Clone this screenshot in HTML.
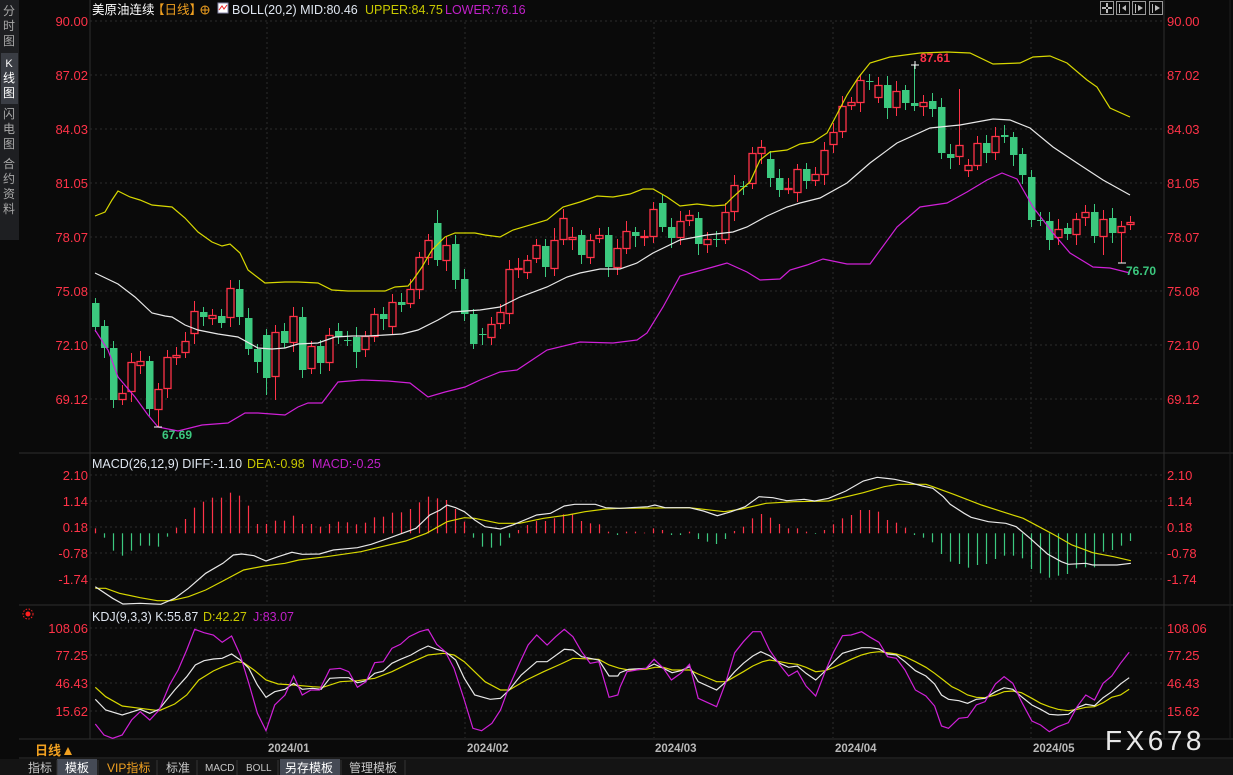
<!DOCTYPE html>
<html><head><meta charset="utf-8">
<style>
html,body{margin:0;padding:0;background:#0a0a0a;width:1233px;height:775px;overflow:hidden}
svg{display:block}
text{font-family:"Liberation Sans","Noto Sans CJK SC",sans-serif}
</style></head>
<body>
<svg id="s" width="1233" height="775" viewBox="0 0 1233 775" xmlns="http://www.w3.org/2000/svg">
<rect width="1233" height="775" fill="#0a0a0a"/>
<rect x="0" y="0" width="19" height="240" fill="#1e1f22"/>
<rect x="1" y="53" width="17" height="51" fill="#3a3d44"/>
<g font-size="12" fill="#a8a8a8" text-anchor="middle">
<text x="9" y="15">分</text><text x="9" y="30">时</text><text x="9" y="45">图</text>
<text x="9" y="67" fill="#fff" font-size="11">K</text><text x="9" y="82" fill="#fff">线</text><text x="9" y="97" fill="#fff">图</text>
<text x="9" y="118">闪</text><text x="9" y="133">电</text><text x="9" y="148">图</text>
<text x="9" y="168">合</text><text x="9" y="183">约</text><text x="9" y="198">资</text><text x="9" y="213">料</text>
</g>
<g id="grid"></g>
<g id="plot"></g>
<text x="92" y="14" font-size="12.5" fill="#ffffff">美原油连续</text>
<text x="152" y="14" font-size="12.5" fill="#f0a020">【日线】</text>
<circle cx="205" cy="10" r="4" fill="none" stroke="#f0a020" stroke-width="1"/><line x1="201" y1="10" x2="209" y2="10" stroke="#f0a020"/><line x1="205" y1="6" x2="205" y2="14" stroke="#f0a020"/>
<rect x="218" y="3" width="10" height="10" fill="#fff" stroke="#88a" stroke-width="1"/><polyline points="219,10 222,6 224,9 227,5" fill="none" stroke="#e22" stroke-width="1"/>
<text x="232" y="14" font-size="12.5" fill="#dfe6f0">BOLL(20,2) MID:80.46</text>
<text x="365" y="14" font-size="12.5" fill="#c8c800">UPPER:84.75</text>
<text x="445" y="14" font-size="12.5" fill="#c020c8">LOWER:76.16</text>
<g fill="none" stroke="#9a9a9a" stroke-width="1">
<rect x="1100.5" y="1.5" width="13" height="13"/><rect x="1116.5" y="1.5" width="13" height="13"/><rect x="1132.5" y="1.5" width="13" height="13"/><rect x="1149.5" y="1.5" width="13" height="13"/>
</g>
<g fill="#bbb"><rect x="1106" y="3" width="2" height="4"/><rect x="1106" y="9" width="2" height="4"/><rect x="1102" y="7" width="4" height="2"/><rect x="1108" y="7" width="4" height="2"/>
<rect x="1119" y="4" width="1" height="9"/><polygon points="1122,8 1126,5 1126,11"/><rect x="1135" y="4" width="1" height="9"/><polygon points="1143,8 1138,5 1138,11"/><rect x="1152" y="4" width="1" height="9"/><polygon points="1160,8 1155,5 1155,11"/></g>
<text x="92" y="468" font-size="12.5" fill="#dfe6f0">MACD(26,12,9) DIFF:-1.10</text>
<text x="247" y="468" font-size="12.5" fill="#c8c800">DEA:-0.98</text>
<text x="312" y="468" font-size="12.5" fill="#c020c8">MACD:-0.25</text>
<text x="92" y="621" font-size="12.5" fill="#dfe6f0">KDJ(9,3,3) K:55.87</text>
<text x="203" y="621" font-size="12.5" fill="#c8c800">D:42.27</text>
<text x="253" y="621" font-size="12.5" fill="#c020c8">J:83.07</text>
<circle cx="28" cy="614" r="2.5" fill="#ff2020"/><circle cx="28" cy="614" r="5" fill="none" stroke="#ff2020" stroke-dasharray="1.5 1.5"/>
<text x="920" y="62" font-size="12" font-weight="bold" fill="#ff3348">87.61</text>
<text x="162" y="439" font-size="12" font-weight="bold" fill="#3cc97f">67.69</text>
<text x="1126" y="275" font-size="12" font-weight="bold" fill="#3cc97f">76.70</text>
<g stroke="#fff" stroke-width="1"><line x1="911" y1="65" x2="919" y2="65"/><line x1="915" y1="61" x2="915" y2="69"/>
<line x1="154" y1="427" x2="162" y2="427"/><line x1="1118" y1="263" x2="1126" y2="263"/></g>
<text x="35" y="755" font-size="13" font-weight="bold" fill="#f0a020">日线</text>
<polygon points="64,755 68,747 72,755" fill="#f0a020"/>
<g font-size="11.5" font-weight="bold" fill="#b8b8b8">
<text x="268" y="752">2024/01</text><text x="467" y="752">2024/02</text><text x="655" y="752">2024/03</text><text x="835" y="752">2024/04</text><text x="1033" y="752">2024/05</text>
</g>
<text x="1105" y="750" font-size="28" fill="#e8e8e8" letter-spacing="3.5">FX678</text>
<rect x="0" y="759" width="1233" height="16" fill="#141414"/>
<rect x="57" y="759" width="40" height="16" fill="#454a55"/>
<rect x="280" y="759" width="60" height="16" fill="#454a55"/>
<g font-size="12" fill="#c8c8c8">
<text x="28" y="772">指标</text><text x="65" y="772" fill="#fff">模板</text><text x="107" y="772" fill="#f0a020" font-family="Liberation Serif,Noto Serif CJK SC,serif">VIP指标</text>
<text x="166" y="772">标准</text><text x="205" y="771" font-size="10" font-family="Liberation Mono,monospace">MACD</text><text x="246" y="771" font-size="10" font-family="Liberation Mono,monospace">BOLL</text>
<text x="285" y="772" fill="#fff">另存模板</text><text x="349" y="772">管理模板</text>
</g>
<g stroke="#333"><line x1="57" y1="760" x2="57" y2="775"/><line x1="98" y1="760" x2="98" y2="775"/><line x1="157" y1="760" x2="157" y2="775"/><line x1="197" y1="760" x2="197" y2="775"/><line x1="237" y1="760" x2="237" y2="775"/><line x1="278" y1="760" x2="278" y2="775"/><line x1="341" y1="760" x2="341" y2="775"/><line x1="405" y1="760" x2="405" y2="775"/></g>
</svg>
<script>
var NS="http://www.w3.org/2000/svg";
function el(p,t,a){var e=document.createElementNS(NS,t);for(var k in a)e.setAttribute(k,a[k]);p.appendChild(e);return e;}
var G=document.getElementById('grid'),P=document.getElementById('plot');
[[90,0,90,739],[1164,0,1164,739],[19,453,1233,453],[19,605,1233,605],[19,739,1233,739],[19,758,1233,758]].forEach(function(l){el(G,'line',{x1:l[0],y1:l[1],x2:l[2],y2:l[3],stroke:'#2e2e2e'});});
el(G,'line',{x1:1230,y1:0,x2:1230,y2:739,stroke:'#1e1e1e'});
function hlab(y,t){el(G,'line',{x1:90,y1:y,x2:1164,y2:y,stroke:'#2c2c2c','stroke-dasharray':'2 3'});
 var a=el(G,'text',{x:88,y:y+5,'font-size':13,fill:'#ff3348','text-anchor':'end'});a.textContent=t;
 var b=el(G,'text',{x:1167,y:y+5,'font-size':13,fill:'#ff3348'});b.textContent=t;}
[[21,'90.00'],[75,'87.02'],[129,'84.03'],[183,'81.05'],[237,'78.07'],[291,'75.08'],[345,'72.10'],[399,'69.12'],
[475,'2.10'],[501,'1.14'],[527,'0.18'],[553,'-0.78'],[579,'-1.74'],
[628,'108.06'],[655,'77.25'],[683,'46.43'],[711,'15.62']].forEach(function(v){hlab(v[0],v[1]);});
[267,465,654,833,1031].forEach(function(x){[[22,452],[470,604],[622,738]].forEach(function(r){el(G,'line',{x1:x,y1:r[0],x2:x,y2:r[1],stroke:'#2c2c2c','stroke-dasharray':'2 3'});});});
var RED='#ff3348',GRN='#3cc97f';
var C=[[303,327,0],[326,348,0],[348,400,0],[393,399,1],[362,391,1],[361,365,1],[361,409,0],[389,409,1],[357,388,1],[355,357,1],
[341,352,1],[311,333,1],[312,317,0],[315,318,1],[316,323,0],[288,317,1],[289,317,0],[318,349,0],[349,362,0],[335,378,0],
[332,376,1],[331,343,0],[316,342,1],[317,370,0],[346,368,1],[346,363,0],[335,362,1],[331,337,0],[340,341,0],[337,352,0],
[336,349,1],[314,336,1],[314,319,0],[302,326,1],[302,305,0],[289,303,1],[257,289,1],[240,257,1],[223,260,0],[245,260,1],
[244,280,0],[279,314,0],[314,344,0],[334,335,0],[324,337,1],[312,323,1],[269,313,1],[268,269,1],[260,272,1],[245,258,1],
[246,267,0],[240,268,1],[218,239,1],[237,239,1],[235,255,0],[240,257,1],[235,238,1],[235,267,0],[248,267,1],[231,248,1],
[232,236,0],[236,237,1],[209,236,1],[203,227,0],[227,238,0],[221,237,1],[215,220,1],[218,244,0],[239,244,1],[239,240,0],
[212,239,1],[185,211,1],[186,187,0],[153,183,1],[147,153,1],[159,178,0],[178,190,0],[188,189,1],[169,192,1],[169,181,0],
[174,180,1],[150,174,1],[132,144,1],[106,131,1],[102,105,1],[80,102,1],[81,82,0],[85,97,1],[85,108,0],[91,107,1],
[90,103,0],[103,106,0],[102,106,1],[101,109,0],[107,153,0],[154,158,0],[145,156,1],[165,170,1],[143,165,1],[143,153,0],
[136,152,1],[135,137,0],[137,155,0],[154,175,0],[177,220,0],[220,221,0],[221,240,0],[229,237,1],[228,234,0],[219,234,1],
[212,217,1],[212,236,0],[219,236,1],[218,233,0],[226,232,1],[222,224,1]];
var HI={92:65,97:89,39:210,52:228},LO={8:427,115:263,20:395,21:400,30:368,113:255};
function X(i){return 95+9*i;}
C.forEach(function(c,i){var x=X(i),col=c[2]?RED:GRN,n=i+1;
 var hi=HI[n]!==undefined?HI[n]:c[0]-5-(i*7%6),lo=LO[n]!==undefined?LO[n]:c[1]+5+(i*5%7);
 el(P,'line',{x1:x+.5,y1:hi,x2:x+.5,y2:lo,stroke:col});
 var h=Math.max(1,c[1]-c[0]);
 if(c[2]) el(P,'rect',{x:x-3,y:c[0]+.5,width:7,height:h,fill:'#0a0a0a',stroke:col,'stroke-width':1.3});
 else el(P,'rect',{x:x-3,y:c[0],width:7.5,height:h,fill:col});
});
function pl(pts,col,tx){var s=pts.map(function(p){return tx?tx(p):p;}).map(function(p){return p[0].toFixed(1)+','+p[1].toFixed(1);}).join(' ');
 el(P,'polyline',{points:s,fill:'none',stroke:col,'stroke-width':1.2});}
pl([[95,216],[105,212],[112,200],[118,191],[130,197],[140,200],[152,205],[172,207],[185,218],[198,232],[212,242],[222,246],[230,244],[240,253],[248,270],[265,283],[285,282],[298,282],[318,283],[332,290],[348,291],[385,291],[395,287],[408,286],[413,280],[422,267],[432,250],[445,237],[455,233],[475,233],[485,235],[500,237],[513,230],[547,220],[563,207],[580,202],[597,196],[613,197],[630,194],[643,189],[653,189],[667,197],[680,206],[697,204],[713,206],[725,205],[733,197],[743,188],[750,182],[760,160],[770,152],[787,150],[800,144],[813,142],[827,133],[835,118],[847,95],[858,78],[870,63],[890,57],[920,53],[947,52],[970,53],[993,64],[1020,63],[1033,57],[1050,56],[1067,63],[1087,80],[1097,87],[1110,108],[1130,117]],'#d8d800');
pl([[95,273],[118,284],[135,297],[152,313],[165,316],[172,317],[185,325],[198,330],[218,334],[238,337],[258,348],[272,349],[285,348],[298,344],[318,343],[335,337],[352,336],[368,336],[402,334],[418,330],[438,320],[452,312],[480,310],[500,307],[520,297],[547,287],[567,277],[580,273],[600,269],[620,269],[637,263],[653,253],[680,240],[707,235],[733,232],[747,227],[767,216],[787,207],[800,203],[820,198],[847,183],[870,163],[897,143],[930,128],[960,125],[993,119],[1010,120],[1030,128],[1053,147],[1077,163],[1103,180],[1130,195]],'#e8e8e8');
pl([[95,330],[108,350],[118,377],[135,397],[148,415],[158,427],[178,431],[202,425],[228,423],[245,413],[258,413],[285,415],[298,407],[308,403],[322,403],[338,382],[362,380],[388,381],[410,383],[428,397],[445,392],[465,387],[480,380],[500,372],[517,370],[547,350],[580,342],[613,343],[637,340],[647,333],[663,307],[680,276],[713,267],[727,263],[747,272],[760,280],[780,279],[790,270],[807,265],[823,259],[847,264],[870,264],[897,227],[920,207],[947,203],[967,192],[987,180],[1002,173],[1017,179],[1033,207],[1053,233],[1070,253],[1093,267],[1110,268],[1130,273]],'#d020d8');
var ML=[220,248,287,302,287,272,272,275,245,218,192,158,140,128,128,113,122,152,207,207,197,197,182,207,207,215,207,200,202,208,203,187,185,173,172,162,142,125,130,135,162,200,248,275,278,272,248,225,210,198,198,190,178,178,198,205,208,230,240];
var MR=[230,230,233,220,225,240,240,230,252,260,267,252,228,215,190,177,188,207,220,220,230,237,225,208,190,180,165,165,170,195,203,218,240,248,262,297,320,327,338,330,327,312,302,302,310,342,355,368,362,357,340,337,337,290,285,272,258];
ML.concat(MR).forEach(function(z,i){var y=455+z/3,zero=533.3,x=X(i)+.5;el(P,'line',{x1:x,y1:zero,x2:x,y2:y,stroke:y<zero?RED:GRN,'stroke-width':1.2});});
function t7(p){return [85+p[0]/2.9,455+p[1]/3];}function t8(p){return [620+p[0]/2.877,455+p[1]/3];}
function t9(p){return [85+p[0]/2.9,610+p[1]/3];}function t10(p){return [620+p[0]/2.877,610+p[1]/3];}
function both(a,fa,b,fb){return a.map(fa).concat(b.map(fb));}
pl(both([[30,400],[60,400],[100,415],[160,428],[210,437],[250,437],[300,425],[350,405],[400,378],[460,345],[520,333],[580,325],[620,315],[700,305],[800,290],[860,275],[930,258],[990,235],[1050,200],[1100,188],[1130,190],[1200,205],[1260,205],[1330,190],[1400,180],[1450,170],[1510,162],[1550,160]],t7,
[[0,160],[200,158],[300,170],[350,162],[420,145],[500,140],[600,138],[700,113],[760,95],[800,88],[880,88],[900,95],[960,118],[1040,150],[1100,170],[1160,190],[1200,212],[1250,240],[1300,270],[1360,293],[1420,305],[1470,317]],t8),'#d8d800');
pl(both([[30,395],[80,430],[110,447],[160,445],[220,448],[260,430],[300,400],[350,355],[400,325],[430,300],[455,297],[490,302],[525,318],[560,305],[600,292],[630,298],[680,297],[720,285],[790,278],[830,268],[880,250],[920,235],[960,220],[1000,180],[1030,165],[1050,150],[1075,158],[1100,170],[1130,195],[1160,215],[1205,222],[1240,210],[1310,180],[1350,175],[1390,153],[1420,148],[1480,148],[1510,158],[1550,160]],t7,
[[0,160],[80,155],[100,150],[130,158],[200,158],[240,168],[280,182],[320,170],[360,155],[400,125],[440,128],[480,137],[530,133],[560,138],[600,130],[650,108],[700,78],[740,67],[790,73],[830,82],[870,93],[900,100],[930,125],[950,148],[990,175],[1010,187],[1060,200],[1110,205],[1140,215],[1180,250],[1230,297],[1270,320],[1290,328],[1340,325],[1360,330],[1430,330],[1470,325]],t8),'#e8e8e8');
pl(both([[30,232],[60,260],[108,288],[160,295],[215,302],[260,282],[295,255],[330,210],[372,183],[400,170],[440,155],[460,158],[490,180],[525,210],[560,222],[605,225],[660,230],[690,232],[740,215],[790,212],[840,205],[890,185],[940,160],[995,135],[1040,130],[1070,135],[1100,155],[1160,215],[1205,240],[1230,240],[1280,210],[1330,185],[1380,162],[1415,145],[1490,148],[1520,165],[1550,175]],t9,
[[0,175],[25,180],[75,178],[100,172],[125,172],[150,180],[200,180],[225,192],[278,215],[305,215],[330,200],[355,185],[382,168],[410,155],[430,150],[460,155],[485,160],[510,163],[535,172],[563,185],[590,182],[615,172],[640,160],[665,148],[695,135],[720,128],[745,125],[770,128],[795,132],[820,140],[850,155],[880,172],[905,190],[930,210],[955,230],[975,240],[1000,255],[1025,262],[1050,263],[1080,255],[1105,245],[1130,243],[1155,248],[1185,265],[1210,280],[1235,290],[1260,298],[1290,302],[1315,298],[1340,292],[1365,290],[1390,278],[1415,262],[1440,255],[1465,238]],t10),'#d8d800');
pl(both([[30,268],[60,300],[108,315],[160,298],[188,310],[215,298],[260,240],[295,200],[320,165],[345,152],[372,147],[398,145],[425,132],[450,150],[475,175],[500,225],[525,262],[550,245],[580,238],[605,220],[630,238],[660,235],[685,238],[710,205],[740,203],[765,203],[790,218],[815,212],[840,190],[865,183],[890,160],[915,148],[945,135],[970,120],[995,108],[1020,118],[1045,125],[1075,150],[1100,205],[1130,255],[1175,268],[1205,265],[1230,240],[1265,195],[1310,155],[1340,155],[1390,118],[1415,120],[1440,140],[1490,150],[1520,198],[1545,198]],t9,
[[0,188],[25,178],[75,175],[98,162],[125,175],[150,188],[175,182],[200,170],[225,215],[278,240],[305,215],[330,185],[355,160],[382,138],[405,125],[430,137],[460,160],[485,172],[510,168],[535,190],[563,210],[590,183],[615,155],[640,130],[665,122],[695,113],[720,113],[745,117],[770,132],[795,135],[820,155],[850,182],[880,198],[905,222],[925,255],[945,268],[975,272],[1000,280],[1025,268],[1050,265],[1080,245],[1105,233],[1130,238],[1155,260],[1185,285],[1210,298],[1235,313],[1260,315],[1290,313],[1315,293],[1340,283],[1365,287],[1390,263],[1415,245],[1440,222],[1465,203]],t10),'#e8e8e8');
pl(both([[30,342],[55,375],[80,385],[108,375],[135,330],[160,305],[188,330],[215,300],[245,225],[270,180],[295,120],[318,58],[345,68],[372,75],[398,97],[425,78],[450,135],[475,220],[500,310],[525,362],[550,285],[580,255],[605,198],[630,255],[655,240],[680,240],[710,178],[740,175],[765,185],[790,232],[815,215],[840,158],[865,155],[890,115],[915,103],[940,80],[970,65],[995,58],[1020,103],[1045,125],[1070,175],[1100,270],[1125,355],[1150,362],[1180,340],[1205,300],[1230,230],[1260,160],[1285,105],[1310,75],[1340,105],[1365,80],[1390,58],[1415,80],[1440,125],[1465,160],[1490,155],[1520,262],[1545,255]],t9,
[[0,232],[20,185],[75,175],[98,148],[125,175],[148,210],[175,190],[200,163],[225,265],[278,290],[305,215],[330,128],[355,95],[382,65],[405,65],[430,120],[460,165],[485,198],[510,183],[535,228],[563,258],[590,185],[615,125],[640,77],[665,75],[695,65],[720,82],[745,97],[770,140],[795,145],[820,180],[850,240],[880,258],[905,288],[925,348],[945,355],[975,325],[1000,322],[1025,285],[1050,275],[1080,222],[1105,200],[1130,220],[1155,275],[1185,333],[1210,345],[1235,365],[1260,350],[1290,338],[1315,290],[1340,255],[1365,270],[1390,220],[1415,198],[1440,160],[1465,127]],t10),'#d020d8');
</script>
</body></html>
